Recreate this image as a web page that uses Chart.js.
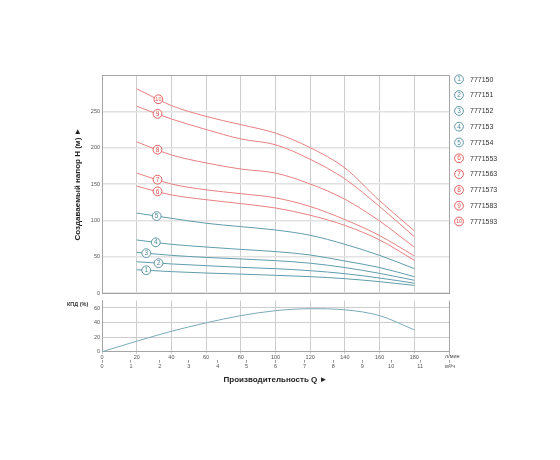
<!DOCTYPE html>
<html>
<head>
<meta charset="utf-8">
<script src="https://cdn.jsdelivr.net/npm/chart.js@4.4.0/dist/chart.umd.min.js"></script>
<style>
  html, body { margin: 0; padding: 0; background: #fff; }
  #wrap { position: relative; width: 560px; height: 460px; }
  #wrap canvas { position: absolute; left: 0; top: 0; }
</style>
</head>
<body>
<div id="wrap">
  <canvas id="headChart" width="560" height="460"></canvas>
  <canvas id="effChart" width="560" height="460"></canvas>
</div>
<script>
// Данные
const flow = [20, 40, 60, 80, 100, 120, 140, 160, 180];        // л/мин
const h1 = [32, 29.4, 27.5, 26, 24.3, 22.5, 19.7, 15.6, 10.5];
const h2 = [43, 40, 37.6, 35.3, 33.5, 30.7, 26.6, 20.6, 13.5];
const h3 = [56, 51.8, 49, 46.8, 44.5, 41, 35, 27, 17.5];
const h4 = [73, 67, 63.3, 60, 57, 52.3, 44, 35, 22.5];
const h5 = [110, 102.8, 96, 91.3, 86.7, 79.4, 67, 51.8, 33.5];
const h6 = [147, 135, 128.4, 123, 117, 107, 93, 73, 45];
const h7 = [165, 150, 142, 136.7, 131, 119, 101, 79, 51];
const h8 = [208, 190, 179, 170.6, 165, 150, 129, 99, 63];
const h9 = [257, 239.5, 225, 212, 204, 184, 157, 119, 77.5];
const h10 = [281, 258, 243, 231.7, 220, 200, 172, 127, 85.5];
const heads = [h1, h2, h3, h4, h5, h6, h7, h8, h9, h10];
const models = ['777150', '777151', '777152', '777153', '777154',
                '7771553', '7771563', '7771573', '7771583', '7771593'];
// где стоит номер на кривой (л/мин)
const labelAt = [25.5, 32.6, 25.5, 31, 31.5, 32, 32, 32, 32, 32.5];

const effFlow = [0, 20, 40, 60, 80, 100, 120, 140, 160, 180];
const eff = [0, 14.4, 28, 39.6, 49.5, 56.3, 59, 57.5, 49.5, 30];

// Цвета
const colors = {
    red: '#e88080',
    redMark: '#e0504f',
    blue: '#5f9dad',
    blueMark: '#4f8c9c',
    eff: '#7aabb9',
    grid: '#cdcdcd',
    gridH: '#e2e2e2',
    border: '#a5a5a5',
    text: '#555'
};
const FONT = 'Liberation Sans, Arial, sans-serif';
Chart.defaults.font.family = FONT;

function lineColor(i) { return i < 5 ? colors.blue : colors.red; }
function markColor(i) { return i < 5 ? colors.blueMark : colors.redMark; }

function drawBadge(ctx, px, py, n, col) {
    ctx.save();
    ctx.beginPath();
    ctx.arc(px, py, 4.4, 0, Math.PI * 2);
    ctx.fillStyle = '#fff';
    ctx.fill();
    ctx.lineWidth = 0.9;
    ctx.strokeStyle = col;
    ctx.stroke();
    ctx.fillStyle = col;
    ctx.font = (n > 9 ? '5.5px ' : '6.5px ') + FONT;
    ctx.textAlign = 'center';
    ctx.textBaseline = 'middle';
    ctx.fillText(String(n), px, py + 0.3);
    ctx.restore();
}

// Номера на кривых
const curveLabels = {
    id: 'curveLabels',
    afterDatasetsDraw(chart) {
        const { ctx, scales: { x, y } } = chart;
        heads.forEach((vals, i) => {
            const q = labelAt[i];
            let k = 0;
            while (k < flow.length - 2 && flow[k + 1] < q) k++;
            const t = (q - flow[k]) / (flow[k + 1] - flow[k]);
            const h = vals[k] + t * (vals[k + 1] - vals[k]);
            drawBadge(ctx, x.getPixelForValue(q), y.getPixelForValue(h), i + 1, markColor(i));
        });
    }
};

// Легенда справа
const sideLegend = {
    id: 'sideLegend',
    afterDraw(chart) {
        const { ctx, chartArea } = chart;
        const x0 = chartArea.right + 10;
        models.forEach((m, i) => {
            const yy = 79.3 + i * 15.8;
            drawBadge(ctx, x0, yy, i + 1, markColor(i));
            ctx.save();
            ctx.fillStyle = '#333';
            ctx.font = '7px ' + FONT;
            ctx.textBaseline = 'middle';
            ctx.fillText(m, x0 + 11, yy + 0.3);
            ctx.restore();
        });
    }
};

// Подписи КПД и единиц
const effNotes = {
    id: 'effNotes',
    afterDraw(chart) {
        const { ctx, chartArea } = chart;
        ctx.save();
        ctx.fillStyle = '#333';
        ctx.font = 'bold 5.5px ' + FONT;
        ctx.textBaseline = 'middle';
        ctx.fillText('КПД (%)', 67, 304);
        ctx.font = '5.5px ' + FONT;
        ctx.fillStyle = '#444';
        ctx.fillText('л/мин', chartArea.right - 4, 356.5);
        ctx.fillText('м³/ч', chartArea.right - 4, 366);
        ctx.restore();
    }
};

function initHeadChart() {
    const datasets = heads.map((vals, i) => ({
        label: models[i],
        data: flow.map((q, j) => ({ x: q, y: vals[j] })),
        borderColor: lineColor(i),
        borderWidth: 1,
        pointRadius: 0,
        cubicInterpolationMode: 'monotone',
        fill: false
    }));

    new Chart(document.getElementById('headChart'), {
        type: 'line',
        data: { datasets },
        options: {
            responsive: false,
            animation: false,
            layout: { padding: { left: 73, right: 111, top: 75, bottom: 167 } },
            plugins: { legend: { display: false }, tooltip: { enabled: false } },
            scales: {
                x: {
                    type: 'linear', min: 0, max: 200,
                    ticks: { display: false, stepSize: 20 },
                    grid: {
                        drawTicks: false,
                        color: c => c.tick.value === 200 ? colors.border : colors.grid
                    },
                    border: { color: colors.border },
                    afterFit: s => { s.height = 0; }
                },
                y: {
                    min: 0, max: 300,
                    ticks: {
                        stepSize: 50, padding: 2, color: colors.text,
                        font: { size: 5.5 },
                        callback: v => v === 300 ? '' : v
                    },
                    grid: {
                        drawTicks: false,
                        color: c => c.tick.value === 300 ? colors.border : colors.gridH,
                        lineWidth: c => c.tick.value === 300 ? 1 : 1.6
                    },
                    border: { color: colors.border },
                    title: {
                        display: true,
                        text: 'Создаваемый напор H (м) ►',
                        color: '#222',
                        font: { size: 8, weight: 'bold' },
                        padding: 0
                    },
                    afterFit: s => { s.width = 29; }
                }
            }
        },
        plugins: [curveLabels, sideLegend]
    });
}

function initEffChart() {
    new Chart(document.getElementById('effChart'), {
        type: 'line',
        data: {
            datasets: [{
                label: 'КПД',
                data: effFlow.map((q, j) => ({ x: q, y: eff[j] })),
                borderColor: colors.eff,
                borderWidth: 1,
                pointRadius: 0,
                cubicInterpolationMode: 'monotone',
                xAxisID: 'x',
                fill: false
            }]
        },
        options: {
            responsive: false,
            animation: false,
            layout: { padding: { left: 73, right: 111, top: 300.7, bottom: 75.6 } },
            plugins: { legend: { display: false }, tooltip: { enabled: false } },
            scales: {
                x: {
                    type: 'linear', position: 'bottom', min: 0, max: 200,
                    ticks: {
                        stepSize: 20, padding: 0, maxRotation: 0, autoSkip: false,
                        color: colors.text, font: { size: 5.5 },
                        callback: v => v === 200 ? '' : v
                    },
                    grid: {
                        tickLength: 2,
                        color: c => c.tick.value === 200 ? colors.border : colors.grid
                    },
                    border: { color: colors.border },
                    afterFit: s => { s.height = 8; }
                },
                x2: {
                    type: 'linear', position: 'bottom', min: 0, max: 12,
                    ticks: {
                        stepSize: 1, padding: 0, maxRotation: 0, autoSkip: false,
                        color: colors.text, font: { size: 5.5 },
                        callback: v => v === 12 ? '' : v
                    },
                    grid: { drawOnChartArea: false, tickLength: 3, color: '#999' },
                    border: { display: false },
                    title: {
                        display: true,
                        text: 'Производительность Q ►',
                        color: '#222',
                        font: { size: 8, weight: 'bold' },
                        padding: 0
                    },
                    afterFit: s => { s.height = 24.7; }
                },
                y: {
                    min: 0, max: 70,
                    ticks: {
                        stepSize: 10, padding: 2, color: colors.text,
                        font: { size: 5.5 },
                        callback: v => (v % 20 === 0 && v < 70) ? v : ''
                    },
                    grid: {
                        drawTicks: false,
                        color: c => c.tick.value === 70 ? colors.border : colors.grid
                    },
                    border: { color: colors.border },
                    afterFit: s => { s.width = 29; }
                }
            }
        },
        plugins: [effNotes]
    });
}

initHeadChart();
initEffChart();
</script>
</body>
</html>
